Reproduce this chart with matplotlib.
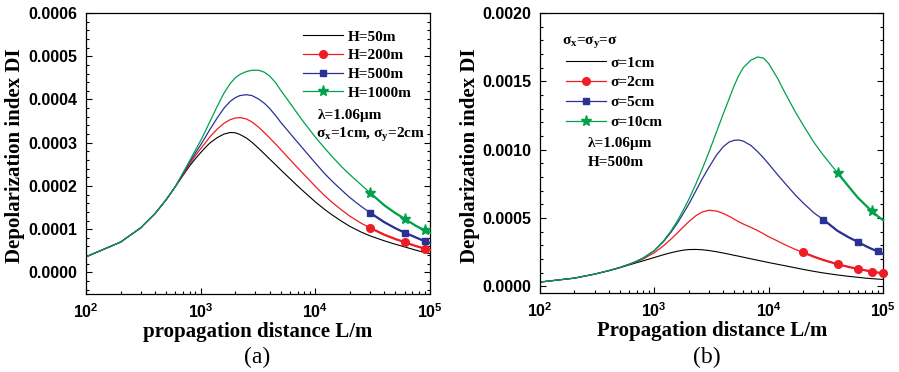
import math

import matplotlib
matplotlib.use("Agg")
import matplotlib.pyplot as plt
from matplotlib.ticker import (FormatStrFormatter, FuncFormatter, LogLocator,
                               MultipleLocator, NullFormatter)

plt.rcParams["font.family"] = "Liberation Sans"
plt.rcParams["mathtext.fontset"] = "custom"
plt.rcParams["mathtext.rm"] = "Liberation Serif:bold"
plt.rcParams["mathtext.it"] = "Liberation Serif:bold"
plt.rcParams["mathtext.bf"] = "Liberation Serif:bold"

# ---- panel (a): different heights H ----
L_a = [100, 200, 300, 400, 500, 600, 700, 800, 900, 1000, 1100, 1200, 1400, 1600, 1800,
       2000, 2200, 2500, 2800, 3200, 3600, 4000, 4500, 5000, 6000, 7000, 8000, 10000,
       12000, 14000, 17000, 20000, 25000, 30000, 40000, 50000, 60000, 75000, 90000,
       100000]
di_h50 = [3.6e-5, 7.0e-5, 1.03e-4, 1.36e-4, 1.68e-4, 1.98e-4, 2.24e-4, 2.46e-4, 2.63e-4,
          2.77e-4, 2.89e-4, 2.99e-4, 3.12e-4, 3.20e-4, 3.235e-4, 3.23e-4, 3.19e-4,
          3.11e-4, 3.01e-4, 2.87e-4, 2.74e-4, 2.62e-4, 2.49e-4, 2.37e-4, 2.17e-4,
          2.00e-4, 1.86e-4, 1.63e-4, 1.46e-4, 1.33e-4, 1.18e-4, 1.065e-4, 9.35e-5,
          8.45e-5, 7.3e-5, 6.5e-5, 5.9e-5, 5.15e-5, 4.6e-5, 4.35e-5]
di_h200 = [3.6e-5, 7.0e-5, 1.03e-4, 1.36e-4, 1.68e-4, 1.98e-4, 2.26e-4, 2.50e-4, 2.70e-4,
           2.86e-4, 3.00e-4, 3.13e-4, 3.32e-4, 3.45e-4, 3.53e-4, 3.57e-4, 3.58e-4,
           3.55e-4, 3.48e-4, 3.36e-4, 3.23e-4, 3.11e-4, 2.97e-4, 2.84e-4, 2.61e-4,
           2.42e-4, 2.26e-4, 1.99e-4, 1.78e-4, 1.62e-4, 1.44e-4, 1.30e-4, 1.14e-4,
           1.03e-4, 8.7e-5, 7.7e-5, 7.0e-5, 6.1e-5, 5.5e-5, 5.2e-5]
di_h500 = [3.6e-5, 7.0e-5, 1.03e-4, 1.36e-4, 1.68e-4, 1.98e-4, 2.28e-4, 2.54e-4, 2.76e-4,
           2.95e-4, 3.13e-4, 3.30e-4, 3.58e-4, 3.80e-4, 3.95e-4, 4.04e-4, 4.09e-4,
           4.11e-4, 4.09e-4, 4.01e-4, 3.91e-4, 3.79e-4, 3.63e-4, 3.47e-4, 3.22e-4,
           3.01e-4, 2.83e-4, 2.53e-4, 2.29e-4, 2.11e-4, 1.90e-4, 1.73e-4, 1.53e-4,
           1.38e-4, 1.16e-4, 1.02e-4, 9.2e-5, 8.1e-5, 7.2e-5, 6.8e-5]
di_h1000 = [3.6e-5, 7.0e-5, 1.03e-4, 1.36e-4, 1.68e-4, 1.98e-4, 2.30e-4, 2.58e-4, 2.83e-4,
            3.05e-4, 3.27e-4, 3.48e-4, 3.85e-4, 4.15e-4, 4.36e-4, 4.50e-4, 4.58e-4,
            4.645e-4, 4.675e-4, 4.675e-4, 4.63e-4, 4.54e-4, 4.39e-4, 4.21e-4, 3.92e-4,
            3.67e-4, 3.46e-4, 3.13e-4, 2.88e-4, 2.68e-4, 2.44e-4, 2.26e-4, 2.03e-4,
            1.84e-4, 1.55e-4, 1.37e-4, 1.24e-4, 1.08e-4, 9.7e-5, 9.2e-5]
marks_a = {"H=200m": [30000, 60000, 90000],
           "H=500m": [30000, 60000, 90000],
           "H=1000m": [30000, 60000, 90000]}

# ---- panel (b): different beam widths sigma ----
L_b = [100, 200, 300, 400, 500, 600, 700, 800, 1000, 1200, 1400, 1600, 1800, 2000, 2300,
       2600, 3000, 3500, 4000, 4500, 5000, 5500, 6000, 7000, 8000, 9000, 10000, 12000,
       14000, 17000, 20000, 25000, 30000, 40000, 50000, 60000, 70000, 80000, 90000,
       100000]
di_s1 = [3.0e-5, 5.9e-5, 8.8e-5, 1.13e-4, 1.35e-4, 1.55e-4, 1.72e-4, 1.86e-4, 2.10e-4,
         2.30e-4, 2.45e-4, 2.56e-4, 2.64e-4, 2.68e-4, 2.69e-4, 2.67e-4, 2.61e-4, 2.52e-4,
         2.43e-4, 2.34e-4, 2.26e-4, 2.19e-4, 2.12e-4, 2.00e-4, 1.90e-4, 1.81e-4, 1.73e-4,
         1.60e-4, 1.49e-4, 1.35e-4, 1.23e-4, 1.08e-4, 9.7e-5, 8.2e-5, 7.2e-5, 6.5e-5,
         5.9e-5, 5.5e-5, 5.2e-5, 4.9e-5]
di_s2 = [3.0e-5, 5.9e-5, 8.8e-5, 1.14e-4, 1.37e-4, 1.59e-4, 1.80e-4, 2.00e-4, 2.45e-4,
         2.95e-4, 3.45e-4, 3.92e-4, 4.35e-4, 4.72e-4, 5.15e-4, 5.42e-4, 5.56e-4, 5.50e-4,
         5.33e-4, 5.12e-4, 4.90e-4, 4.71e-4, 4.55e-4, 4.30e-4, 4.07e-4, 3.84e-4, 3.62e-4,
         3.30e-4, 3.02e-4, 2.70e-4, 2.47e-4, 2.15e-4, 1.92e-4, 1.61e-4, 1.41e-4, 1.27e-4,
         1.16e-4, 1.07e-4, 1.00e-4, 9.3e-5]
di_s5 = [3.0e-5, 5.9e-5, 8.8e-5, 1.14e-4, 1.37e-4, 1.60e-4, 1.83e-4, 2.06e-4, 2.60e-4,
         3.25e-4, 3.95e-4, 4.65e-4, 5.35e-4, 6.00e-4, 6.95e-4, 7.80e-4, 8.70e-4, 9.60e-4,
         1.02e-3, 1.055e-3, 1.068e-3, 1.070e-3, 1.062e-3, 1.030e-3, 9.85e-4, 9.40e-4,
         8.95e-4, 8.15e-4, 7.50e-4, 6.70e-4, 6.10e-4, 5.35e-4, 4.88e-4, 4.05e-4, 3.58e-4,
         3.25e-4, 2.95e-4, 2.72e-4, 2.55e-4, 2.37e-4]
di_s10 = [3.0e-5, 5.9e-5, 8.8e-5, 1.14e-4, 1.37e-4, 1.60e-4, 1.83e-4, 2.07e-4, 2.62e-4,
          3.30e-4, 4.05e-4, 4.82e-4, 5.60e-4, 6.35e-4, 7.45e-4, 8.50e-4, 9.80e-4, 1.13e-3,
          1.26e-3, 1.37e-3, 1.47e-3, 1.545e-3, 1.60e-3, 1.655e-3, 1.678e-3, 1.670e-3,
          1.63e-3, 1.52e-3, 1.41e-3, 1.28e-3, 1.18e-3, 1.05e-3, 9.6e-4, 8.3e-4, 7.3e-4,
          6.5e-4, 5.95e-4, 5.49e-4, 5.12e-4, 4.84e-4]
marks_b = {"σ=2cm": [20000, 40000, 60000, 80000, 100000],
           "σ=5cm": [30000, 60000, 90000],
           "σ=10cm": [40000, 80000]}

RED = "#ee1c24"
BLUE = "#2b3192"
GREEN = "#00a14b"
serif = "Liberation Serif"

fig = plt.figure(figsize=(8.99, 3.72), dpi=100)
ax1 = fig.add_axes([86 / 899, 1 - 294 / 372, 344 / 899, 281 / 372])
ax2 = fig.add_axes([540 / 899, 1 - 293 / 372, 343 / 899, 280 / 372])


def draw(ax, L, y, color, label, marks, marker, ms):
    if not marks:
        ax.plot(L, y, color=color, lw=0.8, label=label)
        return
    start = L.index(marks[0])
    idx = [L.index(m) - start for m in marks]
    ax.plot(L, y, color=color, lw=0.9)
    # thicker segment through the marked points, as in the original
    ax.plot(L[start:], y[start:], color=color, lw=1.6, marker=marker, ms=ms,
            markevery=idx, clip_on=False, zorder=3)
    ax.plot([], [], color=color, lw=0.9, marker=marker, ms=ms, label=label)


draw(ax1, L_a, di_h50, "black", "H=50m", None, None, 0)
draw(ax1, L_a, di_h200, RED, "H=200m", marks_a["H=200m"], "o", 5.5)
draw(ax1, L_a, di_h500, BLUE, "H=500m", marks_a["H=500m"], "s", 4.5)
draw(ax1, L_a, di_h1000, GREEN, "H=1000m", marks_a["H=1000m"], "*", 8)

draw(ax2, L_b, di_s1, "black", "σ=1cm", None, None, 0)
draw(ax2, L_b, di_s2, RED, "σ=2cm", marks_b["σ=2cm"], "o", 5.5)
draw(ax2, L_b, di_s5, BLUE, "σ=5cm", marks_b["σ=5cm"], "s", 4.5)
draw(ax2, L_b, di_s10, GREEN, "σ=10cm", marks_b["σ=10cm"], "*", 8)

for ax in (ax1, ax2):
    ax.set_xscale("log")
    ax.set_xlim(100, 100000)
    ax.xaxis.set_major_locator(LogLocator(base=10, numticks=10))
    ax.xaxis.set_minor_locator(LogLocator(base=10, subs=range(2, 10), numticks=10))
    ax.xaxis.set_minor_formatter(NullFormatter())
    ax.xaxis.set_major_formatter(
        FuncFormatter(lambda v, p: r"$\mathregular{10^{%d}}$" % round(math.log10(v))))
    ax.yaxis.set_major_formatter(FormatStrFormatter("%.4f"))
    ax.tick_params(which="both", direction="in", top=False, right=True, width=0.8)
    ax.tick_params(which="major", length=4)
    ax.tick_params(which="minor", length=2)
    ax.tick_params(axis="y", labelsize=11.5, pad=6)
    ax.tick_params(axis="x", labelsize=11.5, pad=6)
    for s in ax.spines.values():
        s.set_linewidth(0.9)

ax1.set_ylim(-0.00005, 0.0006)
ax1.yaxis.set_major_locator(MultipleLocator(0.0001))
ax1.yaxis.set_minor_locator(MultipleLocator(0.00002))
ax2.set_ylim(-0.00005, 0.002)
ax2.yaxis.set_major_locator(MultipleLocator(0.0005))
ax2.yaxis.set_minor_locator(MultipleLocator(0.0001))

for ax in (ax1, ax2):
    for lab in ax.get_xticklabels() + ax.get_yticklabels():
        lab.set_fontweight("bold")

leg_font = {"family": serif, "weight": "bold", "size": 11}
ax1.legend(loc="upper left", bbox_to_anchor=(0.60, 0.978), frameon=False, prop=leg_font,
           handlelength=2.6, handletextpad=0.3, labelspacing=0.33, borderpad=0.2,
           numpoints=1)
ax1.text(0.674, 0.623, "λ=1.06μm", transform=ax1.transAxes, fontdict=leg_font,
         va="baseline")
ax1.text(0.668, 0.555, r"σ$_\mathregular{x}$=1cm, σ$_\mathregular{y}$=2cm",
         transform=ax1.transAxes, fontdict=leg_font, va="baseline")

ax2.text(0.065, 0.889, r"σ$_\mathregular{x}$=σ$_\mathregular{y}$=σ", transform=ax2.transAxes,
         fontdict=leg_font, va="baseline")
ax2.legend(loc="upper left", bbox_to_anchor=(0.045, 0.885), frameon=False, prop=leg_font,
           handlelength=2.6, handletextpad=0.3, labelspacing=0.4, borderpad=0.2,
           numpoints=1)
ax2.text(0.14, 0.521, "λ=1.06μm", transform=ax2.transAxes, fontdict=leg_font, va="baseline")
ax2.text(0.14, 0.454, "H=500m", transform=ax2.transAxes, fontdict=leg_font, va="baseline")

lab_font = {"family": serif, "weight": "bold", "size": 15}
fig.text(258 / 899, 1 - 332 / 372, "propagation distance L/m", ha="center", va="center",
         fontdict=lab_font)
fig.text(712 / 899, 1 - 331 / 372, "Propagation distance L/m", ha="center", va="center",
         fontdict=lab_font)
fig.text(15 / 899, 1 - 156 / 372, "Depolarization index DI", ha="center", va="center",
         rotation=90, fontdict=lab_font)
fig.text(470 / 899, 1 - 156 / 372, "Depolarization index DI", ha="center", va="center",
         rotation=90, fontdict=lab_font)
fig.text(257 / 899, 1 - 357 / 372, "(a)", ha="center", va="center", family=serif, size=17)
fig.text(707 / 899, 1 - 357 / 372, "(b)", ha="center", va="center", family=serif, size=17)

fig.savefig("out.png", dpi=100)
